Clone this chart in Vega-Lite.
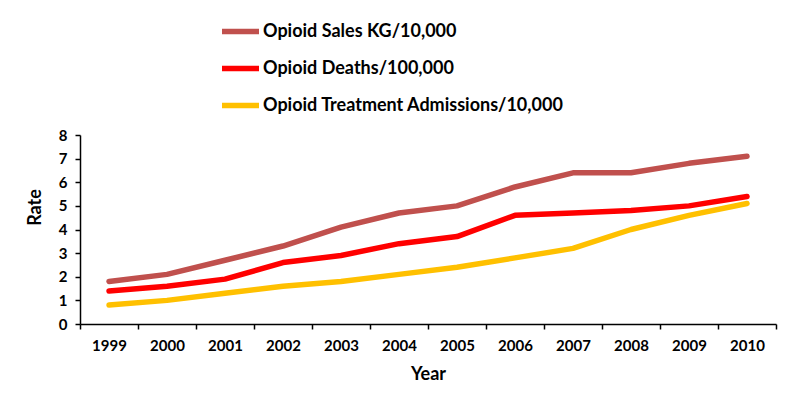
{
  "$schema": "https://vega.github.io/schema/vega-lite/v6.json",
  "width": 696,
  "height": 189,
  "autosize": {"type": "none"},
  "padding": {"left": 80, "top": 135, "right": 24, "bottom": 88},
  "background": "white",
  "config": {"view": {"stroke": null}, "font": "Lato"},
  "data": {
    "values": [
      {"year": "1999", "series": "Opioid Sales KG/10,000", "rate": 1.8},
      {"year": "2000", "series": "Opioid Sales KG/10,000", "rate": 2.1},
      {"year": "2001", "series": "Opioid Sales KG/10,000", "rate": 2.7},
      {"year": "2002", "series": "Opioid Sales KG/10,000", "rate": 3.3},
      {"year": "2003", "series": "Opioid Sales KG/10,000", "rate": 4.1},
      {"year": "2004", "series": "Opioid Sales KG/10,000", "rate": 4.7},
      {"year": "2005", "series": "Opioid Sales KG/10,000", "rate": 5.0},
      {"year": "2006", "series": "Opioid Sales KG/10,000", "rate": 5.8},
      {"year": "2007", "series": "Opioid Sales KG/10,000", "rate": 6.4},
      {"year": "2008", "series": "Opioid Sales KG/10,000", "rate": 6.4},
      {"year": "2009", "series": "Opioid Sales KG/10,000", "rate": 6.8},
      {"year": "2010", "series": "Opioid Sales KG/10,000", "rate": 7.1},
      {"year": "1999", "series": "Opioid Deaths/100,000", "rate": 1.4},
      {"year": "2000", "series": "Opioid Deaths/100,000", "rate": 1.6},
      {"year": "2001", "series": "Opioid Deaths/100,000", "rate": 1.9},
      {"year": "2002", "series": "Opioid Deaths/100,000", "rate": 2.6},
      {"year": "2003", "series": "Opioid Deaths/100,000", "rate": 2.9},
      {"year": "2004", "series": "Opioid Deaths/100,000", "rate": 3.4},
      {"year": "2005", "series": "Opioid Deaths/100,000", "rate": 3.7},
      {"year": "2006", "series": "Opioid Deaths/100,000", "rate": 4.6},
      {"year": "2007", "series": "Opioid Deaths/100,000", "rate": 4.7},
      {"year": "2008", "series": "Opioid Deaths/100,000", "rate": 4.8},
      {"year": "2009", "series": "Opioid Deaths/100,000", "rate": 5.0},
      {"year": "2010", "series": "Opioid Deaths/100,000", "rate": 5.4},
      {"year": "1999", "series": "Opioid Treatment Admissions/10,000", "rate": 0.8},
      {"year": "2000", "series": "Opioid Treatment Admissions/10,000", "rate": 1.0},
      {"year": "2001", "series": "Opioid Treatment Admissions/10,000", "rate": 1.3},
      {"year": "2002", "series": "Opioid Treatment Admissions/10,000", "rate": 1.6},
      {"year": "2003", "series": "Opioid Treatment Admissions/10,000", "rate": 1.8},
      {"year": "2004", "series": "Opioid Treatment Admissions/10,000", "rate": 2.1},
      {"year": "2005", "series": "Opioid Treatment Admissions/10,000", "rate": 2.4},
      {"year": "2006", "series": "Opioid Treatment Admissions/10,000", "rate": 2.8},
      {"year": "2007", "series": "Opioid Treatment Admissions/10,000", "rate": 3.2},
      {"year": "2008", "series": "Opioid Treatment Admissions/10,000", "rate": 4.0},
      {"year": "2009", "series": "Opioid Treatment Admissions/10,000", "rate": 4.6},
      {"year": "2010", "series": "Opioid Treatment Admissions/10,000", "rate": 5.1}
    ]
  },
  "mark": {"type": "line", "strokeWidth": 5.5, "strokeCap": "round", "strokeJoin": "round"},
  "encoding": {
    "x": {
      "field": "year",
      "type": "ordinal",
      "bandPosition": 0.5,
      "scale": {"type": "band", "paddingInner": 0, "paddingOuter": 0},
      "axis": {
        "title": "Year",
        "tickBand": "extent",
        "labelAngle": 0,
        "grid": false,
        "domainColor": "black",
        "domainWidth": 1.5,
        "tickColor": "black",
        "tickWidth": 1.5,
        "tickSize": 5,
        "labelFontWeight": "bold",
        "labelFontSize": 15,
        "labelColor": "black",
        "labelPadding": 9,
        "titleFontSize": 18,
        "titleFontWeight": "bold",
        "titleColor": "black",
        "titleY": 50,
        "titleBaseline": "middle"
      }
    },
    "y": {
      "field": "rate",
      "type": "quantitative",
      "scale": {"domain": [0, 8], "nice": false},
      "axis": {
        "title": "Rate",
        "values": [0, 1, 2, 3, 4, 5, 6, 7, 8],
        "grid": false,
        "domainColor": "black",
        "domainWidth": 1.5,
        "tickColor": "black",
        "tickWidth": 1.5,
        "tickSize": 5,
        "labelFontWeight": "bold",
        "labelFontSize": 15,
        "labelColor": "black",
        "labelPadding": 8,
        "titleFontSize": 18,
        "titleFontWeight": "bold",
        "titleColor": "black",
        "titleX": -45,
        "titleY": 72,
        "titleBaseline": "middle"
      }
    },
    "color": {
      "field": "series",
      "type": "nominal",
      "scale": {
        "domain": ["Opioid Sales KG/10,000", "Opioid Deaths/100,000", "Opioid Treatment Admissions/10,000"],
        "range": ["#C0504D", "#FF0000", "#FFC000"]
      },
      "legend": {
        "orient": "none",
        "legendX": 139,
        "legendY": -125,
        "title": null,
        "symbolType": "stroke",
        "symbolSize": 1369,
        "symbolStrokeWidth": 5.5,
        "labelFontSize": 18,
        "labelFontWeight": "bold",
        "labelColor": "black",
        "labelOffset": 1,
        "rowPadding": 4,
        "labelLimit": 400
      }
    }
  }
}
